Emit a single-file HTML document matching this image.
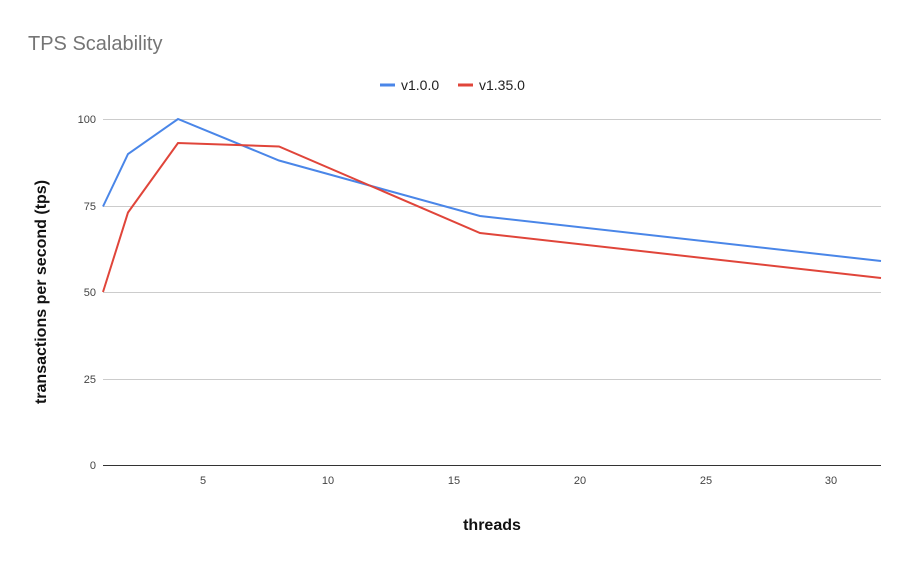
<!DOCTYPE html>
<html><head><style>
body{margin:0;background:#fff;}
svg{display:block;font-family:"Liberation Sans",Arial,sans-serif;}
</style></head><body>
<svg width="910" height="562" viewBox="0 0 910 562">
<rect width="910" height="562" fill="#fff"/>
<text x="28" y="50" font-size="20" fill="#757575">TPS Scalability</text>
<line x1="380" y1="85" x2="395" y2="85" stroke="#4a86e8" stroke-width="3"/>
<text x="401" y="90" font-size="14" fill="#222">v1.0.0</text>
<line x1="458" y1="85" x2="473" y2="85" stroke="#e0453a" stroke-width="3"/>
<text x="479" y="90" font-size="14" fill="#222">v1.35.0</text>
<g stroke="#ccc" stroke-width="1">
<line x1="103" y1="119.5" x2="881" y2="119.5"/>
<line x1="103" y1="206.5" x2="881" y2="206.5"/>
<line x1="103" y1="292.5" x2="881" y2="292.5"/>
<line x1="103" y1="379.5" x2="881" y2="379.5"/>
</g>
<line x1="103" y1="465.5" x2="881" y2="465.5" stroke="#333" stroke-width="1"/>
<g font-size="11" fill="#444" text-anchor="end">
<text x="96" y="123">100</text><text x="96" y="210">75</text><text x="96" y="296">50</text><text x="96" y="383">25</text><text x="96" y="469">0</text>
</g>
<g font-size="11" fill="#444" text-anchor="middle">
<text x="203" y="484">5</text><text x="328" y="484">10</text><text x="454" y="484">15</text><text x="580" y="484">20</text><text x="706" y="484">25</text><text x="831" y="484">30</text>
</g>
<text x="492" y="530" font-size="16" font-weight="bold" fill="#111" text-anchor="middle">threads</text>
<text transform="translate(46,292) rotate(-90)" font-size="16" font-weight="bold" fill="#111" text-anchor="middle">transactions per second (tps)</text>
<polyline fill="none" stroke="#4a86e8" stroke-width="2" points="103,206.5 128,154 178,119 279,160.5 480,216 881,261"/>
<polyline fill="none" stroke="#e0453a" stroke-width="2" points="103,292 128,212.5 178,143 279,146.5 480,233 881,278"/>
</svg>
</body></html>
